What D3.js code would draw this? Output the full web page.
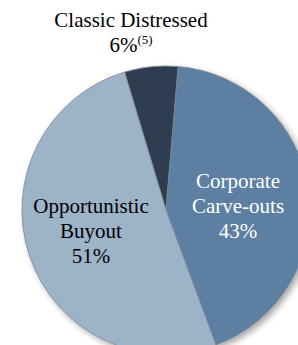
<!DOCTYPE html>
<html>
<head>
<meta charset="utf-8">
<script src="https://cdn.jsdelivr.net/npm/d3@7"></script>
<style>
  body { margin: 0; background: #fff; }
</style>
</head>
<body>
<div id="chart"></div>
<script>
// data
var categories = ["Classic Distressed", "Corporate Carve-outs", "Opportunistic Buyout"];
var shares = [6, 43, 51];
var colors = ["#2f3e4f", "#5c7fa2", "#9db3c8"];

var width = 298, height = 345;
var cx = 166, cy = 210, radius = 144;

var svg = d3.select("#chart").append("svg")
    .attr("width", width)
    .attr("height", height);

var defs = svg.append("defs");
var shadow = defs.append("filter").attr("id", "shadow")
    .attr("x", "-20%").attr("y", "-20%").attr("width", "140%").attr("height", "140%");
shadow.append("feDropShadow")
    .attr("dx", 3).attr("dy", 3).attr("stdDeviation", 3)
    .attr("flood-color", "#000").attr("flood-opacity", 0.35);

var pie = d3.pie()
    .sort(null)
    .startAngle(-0.292)
    .endAngle(-0.292 + 2 * Math.PI)
    .value(function(d) { return d; });

var arc = d3.arc().innerRadius(0).outerRadius(radius);

var g = svg.append("g")
    .attr("transform", "translate(" + cx + "," + cy + ")");

g.append("g").attr("filter", "url(#shadow)")
  .selectAll("path")
  .data(pie(shares))
  .enter().append("path")
    .attr("d", arc)
    .attr("fill", function(d, i) { return colors[i]; })
    .attr("stroke", "#7f8790")
    .attr("stroke-width", 0.8);

// labels
var fs = 21;
var font = "Liberation Serif";

// Classic Distressed, above the pie
var distLabel = svg.append("text")
    .attr("text-anchor", "middle")
    .attr("font-family", font)
    .attr("font-size", fs)
    .attr("fill", "#000");
distLabel.append("tspan").attr("x", 131).attr("y", 27).text(categories[0]);
var distPct = svg.append("text")
    .attr("x", 131).attr("y", 52)
    .attr("text-anchor", "middle")
    .attr("font-family", font)
    .attr("font-size", fs)
    .attr("fill", "#000");
distPct.append("tspan").text(shares[0] + "%");
distPct.append("tspan").attr("font-size", 13).attr("dy", -8).text("(5)");

// Corporate Carve-outs
var corp = svg.append("text")
    .attr("text-anchor", "middle")
    .attr("font-family", font)
    .attr("font-size", fs)
    .attr("fill", "#fff");
["Corporate", "Carve-outs", shares[1] + "%"].forEach(function(t, i) {
  corp.append("tspan").attr("x", 238).attr("y", 188 + i * 25).text(t);
});

// Opportunistic Buyout
var opp = svg.append("text")
    .attr("text-anchor", "middle")
    .attr("font-family", font)
    .attr("font-size", fs)
    .attr("fill", "#000");
["Opportunistic", "Buyout", shares[2] + "%"].forEach(function(t, i) {
  opp.append("tspan").attr("x", 91).attr("y", 213 + i * 25).text(t);
});
</script>
</body>
</html>
